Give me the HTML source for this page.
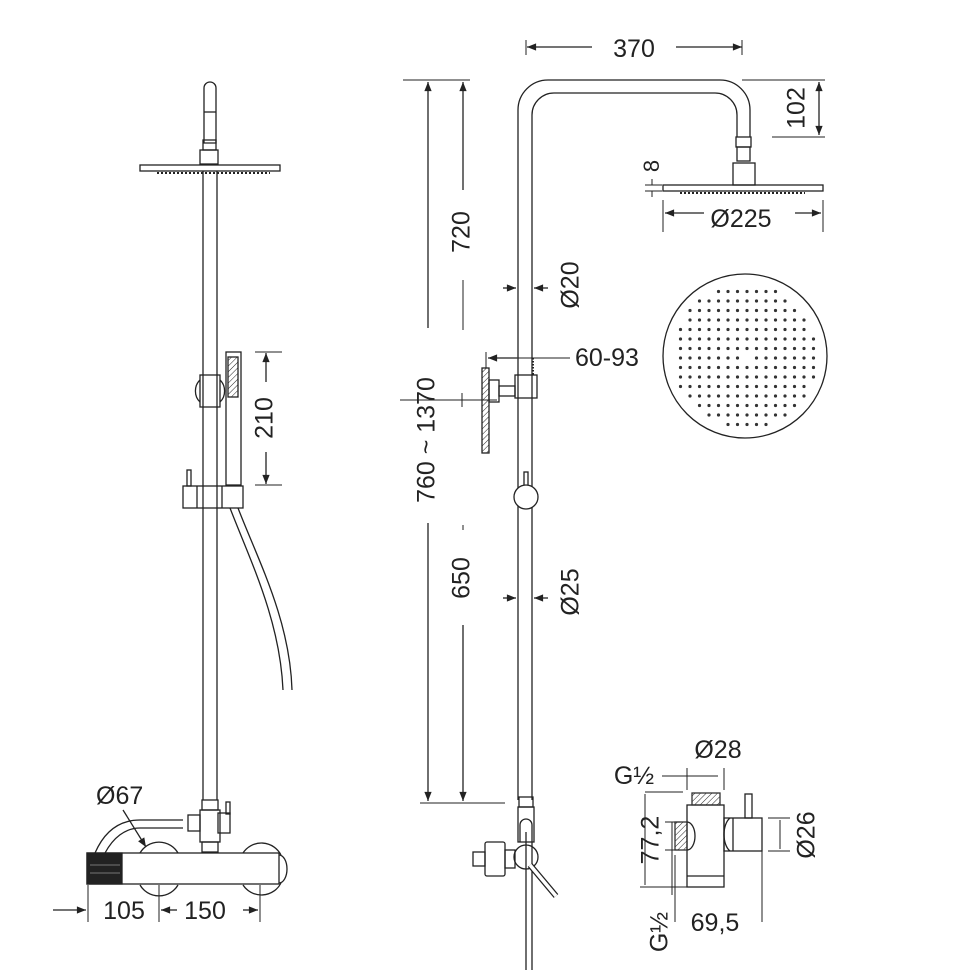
<!DOCTYPE html>
<html><head><style>body{margin:0;background:#fff}svg{display:block}text{font-family:"Liberation Sans",sans-serif;fill:#222}</style></head><body>
<svg width="971" height="972" viewBox="0 0 971 972" xmlns="http://www.w3.org/2000/svg" fill="none" stroke="#222" stroke-width="1.3">
<defs>
<marker id="a" viewBox="0 0 10 10" refX="10" refY="5" markerWidth="9" markerHeight="7" orient="auto-start-reverse"><path d="M0,1 L10,5 L0,9z" fill="#222" stroke="none"/></marker>
<pattern id="h" width="4" height="4" patternUnits="userSpaceOnUse" patternTransform="rotate(45)"><line x1="0" y1="0" x2="0" y2="4" stroke="#222" stroke-width="1"/></pattern>
</defs>
<!-- LEFT VIEW -->
<path d="M204,143 V88 a6,6 0 0 1 12,0 V143 Z"/>
<line x1="204" y1="112" x2="216" y2="112"/>
<rect x="203" y="140" width="13" height="10"/>
<rect x="200" y="150" width="18" height="14"/>
<rect x="140" y="165" width="140" height="6"/>
<path d="M157,173 H270" stroke-dasharray="2,2" stroke-width="2"/>
<line x1="203" y1="171" x2="203" y2="800"/><line x1="217" y1="171" x2="217" y2="800"/>
<rect x="200" y="375" width="20" height="32"/>
<path d="M200,380 a12,14 0 0 0 0,22 M220,380 a12,14 0 0 1 0,22"/>
<rect x="226" y="352" width="15" height="133"/>
<rect x="228" y="357" width="10" height="40" fill="url(#h)"/>
<rect x="183" y="486" width="60" height="22"/>
<line x1="197" y1="486" x2="197" y2="508"/><line x1="222" y1="486" x2="222" y2="508"/>
<rect x="187" y="470" width="4" height="16"/>
<path d="M230,508 C250,560 280,620 283,690 M238,508 C258,560 290,620 292,690"/>
<line x1="255" y1="352" x2="282" y2="352" stroke-width="1"/>
<line x1="255" y1="485" x2="282" y2="485" stroke-width="1"/>
<line x1="266" y1="382" x2="266" y2="353" marker-end="url(#a)"/>
<line x1="266" y1="452" x2="266" y2="484" marker-end="url(#a)"/>
<text x="266" y="418" font-size="25" text-anchor="middle" transform="rotate(-90 266 418)" dominant-baseline="middle" stroke="none">210</text>
<!-- mixer -->
<rect x="202" y="800" width="16" height="10"/>
<rect x="200" y="810" width="20" height="32"/>
<rect x="218" y="813" width="12" height="20"/>
<rect x="226" y="802" width="4" height="12"/>
<rect x="188" y="815" width="12" height="16"/>
<rect x="202" y="842" width="16" height="10"/>
<path d="M183,820 H140 C120,820 105,830 95,853 M183,828 H140 C125,828 113,838 105,853"/>
<path d="M140,853 a22,22 0 0 1 38,0 M140,885 a22,22 0 0 0 38,0 M243,853 a22,22 0 0 1 38,2 M243,885 a22,22 0 0 0 38,-2"/>
<rect x="87" y="853" width="192" height="31"/>
<path d="M279,855 a8,14 0 0 1 0,28"/>
<rect x="87" y="853" width="35" height="31" fill="#222"/>
<line x1="90" y1="865" x2="120" y2="865" stroke="#666"/><line x1="90" y1="873" x2="120" y2="873" stroke="#666"/>
<text x="96" y="804" font-size="25" stroke="none">Ø67</text>
<line x1="123" y1="810" x2="146" y2="847" marker-end="url(#a)"/>
<line x1="88" y1="885" x2="88" y2="922" stroke-width="1"/>
<line x1="159" y1="885" x2="159" y2="922" stroke-width="1"/>
<line x1="260" y1="885" x2="260" y2="922" stroke-width="1"/>
<line x1="53" y1="910" x2="86" y2="910" marker-end="url(#a)"/>
<line x1="177" y1="910" x2="161" y2="910" marker-end="url(#a)"/>
<line x1="243" y1="910" x2="258" y2="910" marker-end="url(#a)"/>
<text x="124" y="919" font-size="25" text-anchor="middle" stroke="none">105</text>
<text x="205" y="919" font-size="25" text-anchor="middle" stroke="none">150</text>
<!-- RIGHT VIEW -->
<path d="M518,800 V110 a30,30 0 0 1 30,-30 H720 a30,30 0 0 1 30,30 V137"/>
<path d="M532,800 V115 a22,22 0 0 1 22,-22 H715 a22,22 0 0 1 22,22 V137"/>
<rect x="736" y="137" width="15" height="10"/>
<rect x="737" y="147" width="13" height="14"/>
<rect x="733" y="163" width="22" height="22"/>
<rect x="663" y="185" width="160" height="6"/>
<path d="M680,193 H805" stroke-dasharray="2,2" stroke-width="2"/>
<line x1="527" y1="47" x2="592" y2="47" marker-start="url(#a)"/>
<line x1="676" y1="47" x2="742" y2="47" marker-end="url(#a)"/>
<line x1="526" y1="40" x2="526" y2="55" stroke-width="1"/><line x1="742" y1="40" x2="742" y2="55" stroke-width="1"/>
<text x="634" y="57" font-size="25" text-anchor="middle" stroke="none">370</text>
<line x1="742" y1="80" x2="825" y2="80" stroke-width="1"/><line x1="772" y1="137" x2="825" y2="137" stroke-width="1"/>
<line x1="819" y1="82" x2="819" y2="135" marker-start="url(#a)" marker-end="url(#a)"/>
<text x="798" y="108" font-size="25" text-anchor="middle" dominant-baseline="middle" transform="rotate(-90 798 108)" stroke="none">102</text>
<line x1="652" y1="179" x2="652" y2="185" stroke-width="1"/><line x1="652" y1="191" x2="652" y2="197" stroke-width="1"/>
<line x1="645" y1="185" x2="662" y2="185" stroke-width="1"/><line x1="645" y1="191" x2="662" y2="191" stroke-width="1"/>
<text x="653" y="166" font-size="22" text-anchor="middle" dominant-baseline="middle" transform="rotate(-90 653 166)" stroke="none">8</text>
<line x1="663" y1="200" x2="663" y2="232" stroke-width="1"/><line x1="823" y1="200" x2="823" y2="232" stroke-width="1"/>
<line x1="704" y1="213" x2="665" y2="213" marker-end="url(#a)"/>
<line x1="795" y1="213" x2="821" y2="213" marker-end="url(#a)"/>
<text x="741" y="227" font-size="25" text-anchor="middle" stroke="none">Ø225</text>
<!-- round plan -->
<circle cx="745" cy="356" r="82"/>
<g fill="#333" stroke="none" id="dots"></g>
<!-- vertical dims -->
<line x1="403" y1="80" x2="470" y2="80" stroke-width="1"/>
<line x1="420" y1="803" x2="505" y2="803" stroke-width="1"/>
<line x1="463" y1="82" x2="463" y2="190" marker-start="url(#a)"/>
<line x1="463" y1="280" x2="463" y2="330" stroke-width="1"/>
<text x="463" y="232" font-size="25" text-anchor="middle" dominant-baseline="middle" transform="rotate(-90 463 232)" stroke="none">720</text>
<line x1="428" y1="82" x2="428" y2="328" marker-start="url(#a)"/>
<line x1="428" y1="523" x2="428" y2="801" marker-end="url(#a)"/>
<text x="428" y="440" font-size="25" text-anchor="middle" dominant-baseline="middle" transform="rotate(-90 428 440)" stroke="none">760 ~ 1370</text>
<line x1="463" y1="525" x2="463" y2="530" stroke-width="1"/>
<line x1="463" y1="625" x2="463" y2="801" marker-end="url(#a)"/>
<text x="463" y="578" font-size="25" text-anchor="middle" dominant-baseline="middle" transform="rotate(-90 463 578)" stroke="none">650</text>
<line x1="400" y1="400" x2="497" y2="400" stroke-width="1"/>
<line x1="462" y1="393" x2="462" y2="407" stroke-width="1"/>
<line x1="503" y1="288" x2="516" y2="288" marker-end="url(#a)"/><line x1="548" y1="288" x2="534" y2="288" marker-end="url(#a)"/>
<text x="572" y="285" font-size="25" text-anchor="middle" dominant-baseline="middle" transform="rotate(-90 572 285)" stroke="none">Ø20</text>
<line x1="503" y1="598" x2="516" y2="598" marker-end="url(#a)"/><line x1="548" y1="598" x2="534" y2="598" marker-end="url(#a)"/>
<text x="572" y="592" font-size="25" text-anchor="middle" dominant-baseline="middle" transform="rotate(-90 572 592)" stroke="none">Ø25</text>
<line x1="486" y1="352" x2="486" y2="368" stroke-width="1"/>
<line x1="488" y1="358" x2="517" y2="358" marker-start="url(#a)"/>
<line x1="517" y1="358" x2="570" y2="358" stroke-width="1"/>
<text x="575" y="366" font-size="25" stroke="none">60-93</text>
<rect x="482" y="368" width="7" height="85" fill="url(#h)"/>
<rect x="489" y="380" width="10" height="22"/>
<rect x="499" y="386" width="16" height="10"/>
<rect x="515" y="375" width="22" height="23"/>
<path d="M533,358 V375" stroke-dasharray="1.5,1.5" stroke-width="2"/>
<rect x="524" y="472" width="4" height="14"/>
<circle cx="526" cy="497" r="12" fill="#fff"/>
<!-- bottom right view valve -->
<rect x="519" y="797" width="14" height="10"/>
<rect x="518" y="807" width="16" height="35"/>
<path d="M520,842 V825 a6,6 0 0 1 12,0 V970 M526,832 V970"/>
<circle cx="526" cy="857" r="12"/>
<line x1="530" y1="865" x2="556" y2="896" stroke-width="6"/><line x1="530" y1="865" x2="556" y2="896" stroke="#fff" stroke-width="3.5"/>
<rect x="505" y="850" width="10" height="18"/>
<rect x="485" y="842" width="20" height="34" rx="2"/>
<rect x="473" y="852" width="12" height="14"/>
<!-- diverter detail -->
<rect x="687" y="805" width="37" height="82"/>
<line x1="687" y1="876" x2="724" y2="876"/>
<rect x="692" y="793" width="28" height="12" fill="url(#h)" stroke="#333"/>
<rect x="675" y="822" width="12" height="28" fill="url(#h)" stroke="#333"/>
<path d="M687,822 a8,14 0 0 1 0,28 M730,818 a10,18 0 0 0 0,33"/>
<rect x="724" y="818" width="38" height="33"/>
<line x1="733" y1="818" x2="733" y2="851"/>
<rect x="745" y="794" width="7" height="24"/>
<text x="718" y="758" font-size="25" text-anchor="middle" stroke="none">Ø28</text>
<line x1="687" y1="768" x2="687" y2="790" stroke-width="1"/><line x1="724" y1="768" x2="724" y2="790" stroke-width="1"/>
<text x="634" y="784" font-size="25" text-anchor="middle" stroke="none">G½</text>
<line x1="662" y1="776" x2="718" y2="776" stroke-width="1"/>
<line x1="645" y1="792" x2="683" y2="792" stroke-width="1"/>
<line x1="640" y1="887" x2="688" y2="887" stroke-width="1"/>
<line x1="645" y1="794" x2="645" y2="885" stroke-width="1"/>
<text x="652" y="840" font-size="25" text-anchor="middle" dominant-baseline="middle" transform="rotate(-90 652 840)" stroke="none">77,2</text>
<line x1="665" y1="822" x2="680" y2="822" stroke-width="1"/><line x1="665" y1="850" x2="680" y2="850" stroke-width="1"/>
<line x1="672" y1="822" x2="672" y2="895" stroke-width="1"/>
<text x="661" y="932" font-size="25" text-anchor="middle" dominant-baseline="middle" transform="rotate(-90 661 932)" stroke="none">G½</text>
<line x1="675" y1="855" x2="675" y2="922" stroke-width="1"/>
<line x1="762" y1="851" x2="762" y2="922" stroke-width="1"/>
<text x="715" y="931" font-size="25" text-anchor="middle" stroke="none">69,5</text>
<line x1="768" y1="818" x2="790" y2="818" stroke-width="1"/><line x1="768" y1="851" x2="790" y2="851" stroke-width="1"/>
<line x1="780" y1="820" x2="780" y2="849" stroke-width="1"/>
<text x="808" y="835" font-size="25" text-anchor="middle" dominant-baseline="middle" transform="rotate(-90 808 835)" stroke="none">Ø26</text>
</svg>
<script>
var g=document.getElementById('dots'),s='';
for(var y=-74;y<=74;y+=9.5)for(var x=-74;x<=74;x+=9.5){var r=Math.hypot(x,y);if(r<72&&r>6)s+='<circle cx="'+(745+x)+'" cy="'+(356+y)+'" r="1.6"/>';}
g.innerHTML=s;
</script>
</body></html>
